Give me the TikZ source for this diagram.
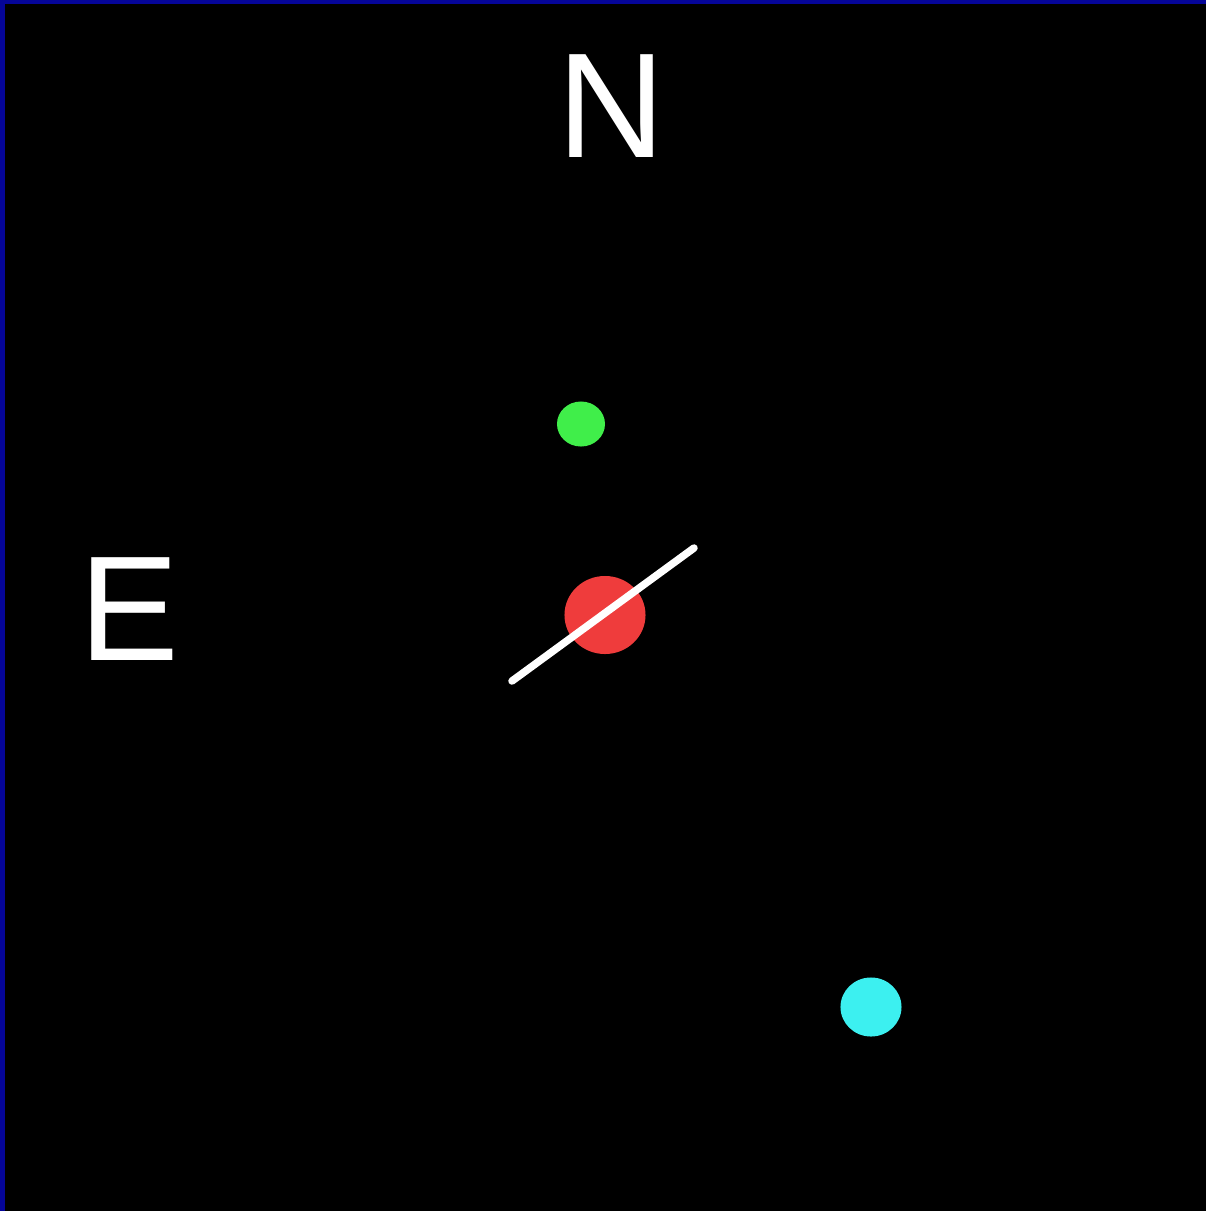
\documentclass[tikz,border=0pt]{standalone}
\usepackage{fontspec}
\setmainfont{Liberation Sans}
\usetikzlibrary{positioning}
\usetikzlibrary{shapes.geometric}
\definecolor{framblue}{RGB}{5,5,152}
\definecolor{dotgreen}{RGB}{64,238,74}
\definecolor{dotred}{RGB}{239,60,60}
\definecolor{dotcyan}{RGB}{60,240,240}
\tikzset{
    x=0.01cm, y=-0.01cm,
    dot/.style={
        ellipse, inner sep=0pt, draw=none
    },
    compass/.style={
        text=white,
        inner sep=0pt,
        font=\fontsize{42.5}{48}\selectfont
    }
}

\begin{document}
\begin{tikzpicture}
                \useasboundingbox (0,0) rectangle (1206,1211);
                \fill[black] (0,0) rectangle (1206,1211);
                \fill[framblue] (0,0) rectangle (1206,4);
                \fill[framblue] (0,0) rectangle (5,1211);

                \node[compass] (north) at (611,106) {N};
                \node[compass] (east) at (129,609) {E};

                \node[dot, fill=dotgreen, minimum width=0.48cm, minimum height=0.45cm] (green) at (581,424) {};
                \node[dot, fill=dotred, minimum width=0.81cm, minimum height=0.78cm] (red) at (605,615) {};
                \node[dot, fill=dotcyan, minimum width=0.61cm, minimum height=0.59cm] (cyan) at (871,1007) {};

                \coordinate (barsw) at (512,681);
                \coordinate (barne) at (694,548);
                \draw[white, line width=0.075cm, line cap=round] (barsw) -- (barne);
            \end{tikzpicture}
\end{document}
